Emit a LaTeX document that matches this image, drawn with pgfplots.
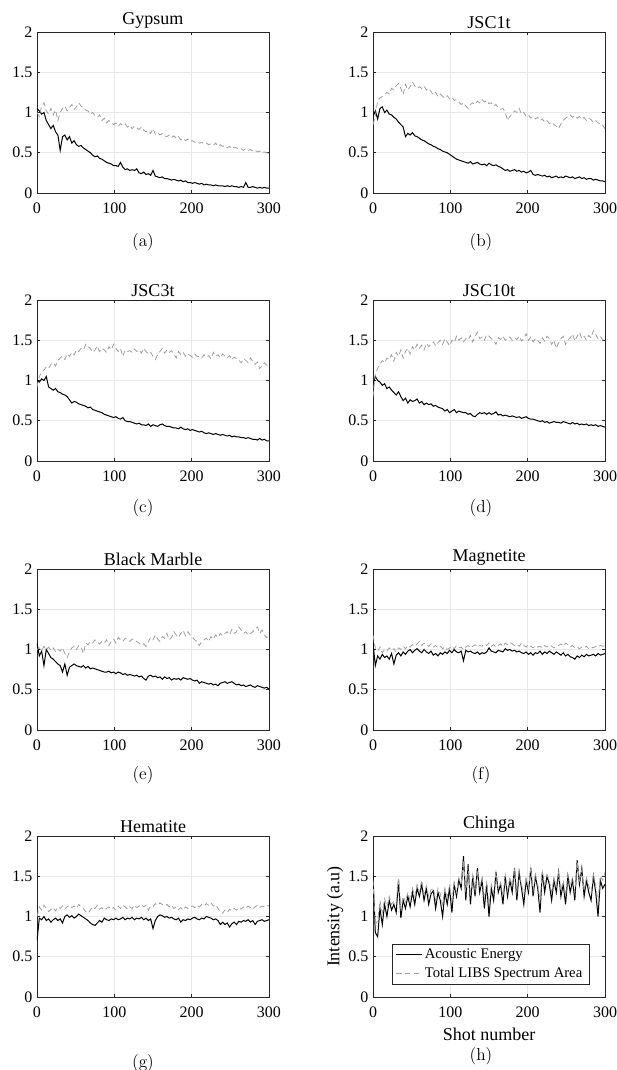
\documentclass[border=0pt]{standalone}
\usepackage{fontspec}
\newfontfamily\tnr{Liberation Serif}
\usepackage{pgfplots}
\pgfplotsset{compat=1.18}
\usepackage{pgfplotstable}
\definecolor{libs}{gray}{0.62}
\definecolor{gridc}{gray}{0.91}
\definecolor{axc}{gray}{0.15}

\pgfplotsset{
 panel/.style={
  scale only axis, width=174pt, height=120.75pt,
  xmin=0,xmax=300,ymin=0,ymax=2,
  xtick={0,100,200,300}, ytick={0,0.5,1,1.5,2},
  grid=major, major grid style={gridc, line width=0.4pt},
  axis line style={axc, line width=0.5pt},
  tick align=inside, major tick length=2.5pt, tick style={axc, line width=0.4pt},
  /pgf/number format/assume math mode=true,
  tick label style={font=\tnr\fontsize{12}{14}\selectfont},
  xticklabel style={yshift=-3.5pt},
  title style={font=\tnr\fontsize{13.5}{15}\selectfont, yshift=-7pt},
  label style={font=\tnr\fontsize{13.5}{15}\selectfont},
  anchor=north west,
 },
 ae/.style={black, line width=0.75pt},
 li/.style={libs, line width=0.6pt, dash pattern=on 4pt off 2.5pt},
}

\pgfplotstableread[row sep=\\]{x a l\\
0 1.05 1.00\\3 1.02 0.95\\6 0.98 1.08\\9 1.00 1.12\\12 0.90 1.02\\15 0.85 0.98\\18 0.80 1.05\\21 0.84 0.97\\24 0.76 1.03\\27 0.72 0.90\\
30 0.53 1.00\\33 0.70 1.05\\36 0.72 1.08\\39 0.66 1.02\\42 0.70 1.06\\45 0.62 1.10\\48 0.65 1.04\\51 0.60 1.07\\54 0.58 1.12\\57 0.59 1.08\\
60 0.56 1.06\\63 0.54 1.03\\66 0.52 1.02\\69 0.50 0.98\\72 0.47 1.00\\75 0.45 0.96\\78 0.46 0.94\\81 0.43 0.97\\84 0.42 0.90\\87 0.40 0.93\\
90 0.38 0.87\\93 0.37 0.90\\96 0.36 0.88\\99 0.34 0.85\\102 0.34 0.87\\105 0.33 0.83\\108 0.38 0.86\\111 0.32 0.84\\114 0.29 0.86\\117 0.30 0.82\\
120 0.28 0.84\\123 0.29 0.80\\126 0.28 0.83\\129 0.30 0.81\\132 0.25 0.79\\135 0.24 0.82\\138 0.26 0.78\\141 0.23 0.76\\144 0.24 0.78\\147 0.22 0.74\\
150 0.28 0.80\\153 0.21 0.73\\156 0.20 0.75\\159 0.19 0.72\\162 0.20 0.74\\165 0.18 0.71\\168 0.18 0.70\\171 0.17 0.72\\174 0.16 0.69\\177 0.17 0.71\\
180 0.16 0.68\\183 0.15 0.70\\186 0.16 0.66\\189 0.14 0.68\\192 0.15 0.65\\195 0.13 0.67\\198 0.13 0.64\\201 0.12 0.65\\204 0.13 0.63\\207 0.12 0.64\\
210 0.11 0.62\\213 0.12 0.63\\216 0.10 0.61\\219 0.11 0.62\\222 0.10 0.60\\225 0.10 0.61\\228 0.09 0.59\\231 0.10 0.62\\234 0.09 0.58\\237 0.09 0.60\\
240 0.09 0.58\\243 0.08 0.59\\246 0.09 0.56\\249 0.08 0.58\\252 0.09 0.55\\255 0.08 0.57\\258 0.08 0.56\\261 0.07 0.54\\264 0.08 0.55\\267 0.07 0.53\\
270 0.13 0.55\\273 0.07 0.53\\276 0.07 0.54\\279 0.08 0.52\\282 0.07 0.53\\285 0.06 0.51\\288 0.07 0.52\\291 0.06 0.50\\294 0.07 0.51\\297 0.06 0.50\\
300 0.06 0.49\\
}\tabA

\pgfplotstableread[row sep=\\]{x a l\\
0 0.95 0.85\\3 1.02 0.95\\6 0.92 1.15\\9 1.05 1.18\\12 1.07 1.20\\15 1.00 1.22\\18 1.03 1.25\\21 0.98 1.23\\24 0.97 1.30\\27 0.94 1.28\\
30 0.92 1.33\\33 0.88 1.36\\36 0.85 1.30\\39 0.82 1.22\\42 0.70 1.35\\45 0.74 1.28\\48 0.72 1.32\\51 0.75 1.38\\54 0.71 1.33\\57 0.70 1.30\\
60 0.68 1.32\\63 0.66 1.30\\66 0.65 1.33\\69 0.63 1.28\\72 0.61 1.30\\75 0.60 1.26\\78 0.58 1.22\\81 0.57 1.25\\84 0.55 1.20\\87 0.54 1.23\\
90 0.52 1.20\\93 0.51 1.18\\96 0.50 1.21\\99 0.48 1.17\\102 0.46 1.19\\105 0.44 1.15\\108 0.42 1.16\\111 0.41 1.13\\114 0.40 1.10\\117 0.39 1.12\\
120 0.38 1.08\\123 0.37 1.05\\126 0.39 1.10\\129 0.36 1.12\\132 0.37 1.10\\135 0.38 1.14\\138 0.36 1.12\\141 0.35 1.16\\144 0.36 1.13\\147 0.34 1.15\\
150 0.37 1.11\\153 0.35 1.12\\156 0.34 1.08\\159 0.35 1.10\\162 0.33 1.06\\165 0.32 1.04\\168 0.30 1.05\\171 0.28 1.00\\174 0.29 0.90\\177 0.27 0.95\\
180 0.28 0.98\\183 0.29 1.02\\186 0.27 1.00\\189 0.28 1.05\\192 0.26 0.98\\195 0.27 1.00\\198 0.25 0.95\\201 0.26 0.97\\204 0.28 0.93\\207 0.23 0.95\\
210 0.22 0.92\\213 0.23 0.94\\216 0.22 0.90\\219 0.21 0.92\\222 0.22 0.88\\225 0.20 0.90\\228 0.21 0.86\\231 0.19 0.88\\234 0.20 0.85\\237 0.21 0.83\\
240 0.19 0.80\\243 0.20 0.86\\246 0.19 0.90\\249 0.21 0.93\\252 0.20 0.95\\255 0.19 0.97\\258 0.20 0.94\\261 0.18 0.96\\264 0.19 0.93\\267 0.20 0.95\\
270 0.18 0.92\\273 0.19 0.94\\276 0.17 0.90\\279 0.18 0.93\\282 0.18 0.91\\285 0.16 0.88\\288 0.17 0.90\\291 0.16 0.87\\294 0.15 0.86\\297 0.15 0.84\\
300 0.14 0.80\\
}\tabB

\pgfplotstableread[row sep=\\]{x a l\\
0 1.00 0.92\\3 0.98 1.05\\6 1.02 1.10\\9 1.00 1.13\\12 1.05 1.17\\15 0.92 1.15\\18 0.90 1.20\\21 0.88 1.22\\24 0.90 1.18\\27 0.86 1.25\\
30 0.85 1.28\\33 0.83 1.30\\36 0.82 1.26\\39 0.80 1.33\\42 0.76 1.30\\45 0.72 1.35\\48 0.74 1.32\\51 0.73 1.38\\54 0.71 1.36\\57 0.70 1.40\\
60 0.69 1.38\\63 0.68 1.45\\66 0.66 1.42\\69 0.67 1.40\\72 0.64 1.35\\75 0.63 1.38\\78 0.62 1.43\\81 0.61 1.36\\84 0.60 1.40\\87 0.58 1.38\\
90 0.57 1.35\\93 0.56 1.42\\96 0.55 1.38\\99 0.54 1.45\\102 0.55 1.40\\105 0.53 1.36\\108 0.52 1.40\\111 0.54 1.30\\114 0.50 1.38\\117 0.49 1.36\\
120 0.49 1.37\\123 0.48 1.35\\126 0.47 1.39\\129 0.46 1.36\\132 0.47 1.38\\135 0.45 1.34\\138 0.45 1.40\\141 0.44 1.36\\144 0.46 1.33\\147 0.43 1.35\\
150 0.45 1.30\\153 0.44 1.26\\156 0.43 1.32\\159 0.45 1.36\\162 0.46 1.40\\165 0.44 1.34\\168 0.43 1.38\\171 0.43 1.35\\174 0.42 1.37\\177 0.41 1.33\\
180 0.41 1.28\\183 0.40 1.36\\186 0.42 1.32\\189 0.40 1.35\\192 0.39 1.30\\195 0.40 1.33\\198 0.38 1.31\\201 0.39 1.29\\204 0.38 1.33\\207 0.37 1.30\\
210 0.36 1.30\\213 0.37 1.28\\216 0.35 1.32\\219 0.34 1.29\\222 0.35 1.31\\225 0.34 1.27\\228 0.33 1.35\\231 0.34 1.30\\234 0.33 1.32\\237 0.32 1.28\\
240 0.33 1.33\\243 0.32 1.30\\246 0.31 1.28\\249 0.32 1.31\\252 0.30 1.26\\255 0.31 1.29\\258 0.30 1.27\\261 0.30 1.25\\264 0.29 1.22\\267 0.29 1.27\\
270 0.28 1.25\\273 0.29 1.22\\276 0.28 1.28\\279 0.27 1.24\\282 0.27 1.20\\285 0.26 1.23\\288 0.28 1.15\\291 0.26 1.18\\294 0.27 1.22\\297 0.25 1.19\\
300 0.25 1.20\\
}\tabC

\pgfplotstableread[row sep=\\]{x a l\\
0 0.95 0.80\\3 1.05 1.08\\6 1.00 1.15\\9 0.98 1.20\\12 0.94 1.25\\15 0.96 1.22\\18 0.90 1.28\\21 0.92 1.26\\24 0.88 1.32\\27 0.85 1.24\\
30 0.82 1.35\\33 0.86 1.30\\36 0.80 1.38\\39 0.75 1.28\\42 0.78 1.36\\45 0.72 1.40\\48 0.76 1.33\\51 0.74 1.42\\54 0.75 1.38\\57 0.77 1.45\\
60 0.72 1.40\\63 0.74 1.44\\66 0.70 1.38\\69 0.72 1.46\\72 0.70 1.42\\75 0.71 1.45\\78 0.68 1.48\\81 0.69 1.43\\84 0.67 1.47\\87 0.66 1.50\\
90 0.65 1.45\\93 0.62 1.52\\96 0.64 1.48\\99 0.60 1.43\\102 0.62 1.50\\105 0.64 1.47\\108 0.60 1.55\\111 0.62 1.50\\114 0.61 1.53\\117 0.60 1.48\\
120 0.60 1.52\\123 0.58 1.50\\126 0.59 1.56\\129 0.56 1.48\\132 0.55 1.55\\135 0.58 1.60\\138 0.60 1.52\\141 0.59 1.54\\144 0.60 1.50\\147 0.58 1.57\\
150 0.60 1.55\\153 0.58 1.52\\156 0.59 1.50\\159 0.61 1.45\\162 0.57 1.53\\165 0.58 1.51\\168 0.56 1.55\\171 0.57 1.50\\174 0.56 1.52\\177 0.55 1.54\\
180 0.56 1.50\\183 0.55 1.53\\186 0.54 1.51\\189 0.55 1.55\\192 0.53 1.49\\195 0.54 1.52\\198 0.55 1.58\\201 0.53 1.50\\204 0.52 1.54\\207 0.52 1.48\\
210 0.51 1.52\\213 0.50 1.50\\216 0.49 1.46\\219 0.50 1.53\\222 0.48 1.49\\225 0.49 1.55\\228 0.47 1.52\\231 0.48 1.45\\234 0.49 1.50\\237 0.48 1.40\\
240 0.48 1.47\\243 0.47 1.52\\246 0.49 1.55\\249 0.48 1.45\\252 0.47 1.50\\255 0.46 1.53\\258 0.48 1.58\\261 0.46 1.49\\264 0.47 1.55\\267 0.45 1.60\\
270 0.46 1.52\\273 0.45 1.55\\276 0.46 1.50\\279 0.44 1.56\\282 0.45 1.53\\285 0.44 1.62\\288 0.45 1.57\\291 0.43 1.52\\294 0.44 1.55\\297 0.43 1.50\\
300 0.42 1.52\\
}\tabD

\pgfplotstableread[row sep=\\]{x a l\\
0 1.08 1.00\\3 0.92 1.02\\6 0.98 0.98\\9 0.80 1.04\\12 1.00 1.00\\15 0.95 1.03\\18 0.90 0.99\\21 0.88 1.02\\24 0.85 0.97\\27 0.82 1.00\\
30 0.80 0.98\\33 0.72 1.02\\36 0.82 0.95\\39 0.68 0.90\\42 0.78 0.97\\45 0.80 1.02\\48 0.82 1.04\\51 0.80 1.00\\54 0.79 1.05\\57 0.78 1.03\\
60 0.80 0.95\\63 0.77 1.08\\66 0.79 1.06\\69 0.76 1.10\\72 0.77 1.08\\75 0.76 1.12\\78 0.75 1.09\\81 0.74 1.07\\84 0.73 1.10\\87 0.72 1.08\\
90 0.72 1.12\\93 0.73 1.05\\96 0.71 1.10\\99 0.72 1.13\\102 0.70 1.08\\105 0.72 1.15\\108 0.71 1.12\\111 0.69 1.10\\114 0.70 1.14\\117 0.68 1.12\\
120 0.69 1.10\\123 0.68 1.13\\126 0.67 1.12\\129 0.68 1.10\\132 0.66 1.08\\135 0.67 1.05\\138 0.64 1.07\\141 0.62 1.04\\144 0.67 1.10\\147 0.68 1.15\\
150 0.66 1.12\\153 0.67 1.18\\156 0.65 1.13\\159 0.66 1.10\\162 0.63 1.16\\165 0.66 1.14\\168 0.64 1.20\\171 0.65 1.12\\174 0.62 1.15\\177 0.64 1.22\\
180 0.63 1.18\\183 0.64 1.15\\186 0.62 1.20\\189 0.65 1.24\\192 0.64 1.17\\195 0.63 1.22\\198 0.64 1.18\\201 0.62 1.15\\204 0.61 1.12\\207 0.62 1.10\\
210 0.58 1.05\\213 0.60 1.10\\216 0.59 1.12\\219 0.58 1.14\\222 0.57 1.10\\225 0.58 1.16\\228 0.56 1.13\\231 0.57 1.18\\234 0.55 1.15\\237 0.58 1.20\\
240 0.59 1.17\\243 0.60 1.20\\246 0.58 1.22\\249 0.59 1.18\\252 0.60 1.25\\255 0.58 1.20\\258 0.56 1.22\\261 0.57 1.28\\264 0.55 1.24\\267 0.56 1.20\\
270 0.54 1.22\\273 0.55 1.18\\276 0.56 1.20\\279 0.54 1.22\\282 0.53 1.25\\285 0.55 1.28\\288 0.54 1.20\\291 0.53 1.24\\294 0.52 1.18\\297 0.53 1.15\\
300 0.51 1.16\\
}\tabE

\pgfplotstableread[row sep=\\]{x a l\\
0 1.08 1.18\\3 0.80 1.02\\6 0.92 0.98\\9 0.88 1.03\\12 0.94 0.96\\15 0.90 1.00\\18 0.92 0.98\\21 0.88 1.02\\24 0.95 0.99\\27 0.82 1.01\\
30 0.93 0.97\\33 0.96 1.02\\36 0.92 1.00\\39 0.97 1.04\\42 0.94 1.01\\45 0.98 1.05\\48 1.00 1.03\\51 0.96 1.06\\54 0.99 1.04\\57 1.01 1.07\\
60 0.98 1.10\\63 0.96 1.05\\66 1.00 1.08\\69 0.97 1.06\\72 0.95 1.04\\75 0.98 1.07\\78 0.93 1.03\\81 0.95 1.05\\84 0.92 1.02\\87 0.96 1.04\\
90 0.94 1.01\\93 0.97 1.03\\96 0.95 1.00\\99 0.99 1.02\\102 0.96 1.04\\105 1.00 1.01\\108 0.97 1.05\\111 0.96 1.02\\114 0.98 1.03\\117 0.86 1.00\\
120 0.99 1.03\\123 0.97 1.05\\126 0.98 1.02\\129 0.96 1.04\\132 0.95 1.06\\135 0.97 1.03\\138 0.94 1.05\\141 0.96 1.04\\144 0.95 1.07\\147 0.97 1.05\\
150 1.02 1.08\\153 0.98 1.04\\156 0.97 1.06\\159 0.96 1.03\\162 0.99 1.05\\165 0.98 1.07\\168 0.97 1.04\\171 1.01 1.08\\174 0.99 1.06\\177 1.00 1.09\\
180 0.98 1.07\\183 0.99 1.05\\186 0.97 1.06\\189 0.98 1.04\\192 0.96 1.08\\195 0.95 1.05\\198 0.97 1.03\\201 0.94 1.06\\204 0.96 1.04\\207 0.93 1.02\\
210 0.96 1.05\\213 0.95 1.03\\216 0.98 1.04\\219 0.94 1.02\\222 0.97 1.05\\225 0.95 1.03\\228 0.98 1.06\\231 0.96 1.04\\234 0.94 1.02\\237 0.97 1.04\\
240 0.95 1.05\\243 0.93 1.07\\246 0.96 1.04\\249 0.92 1.08\\252 0.94 1.06\\255 0.91 1.03\\258 0.90 1.05\\261 0.88 1.02\\264 0.92 1.03\\267 0.90 1.01\\
270 0.93 1.03\\273 0.91 1.02\\276 0.94 1.04\\279 0.92 1.01\\282 0.93 1.03\\285 0.94 1.02\\288 0.92 1.04\\291 0.95 1.03\\294 0.93 1.05\\297 0.94 1.04\\
300 0.95 1.05\\
}\tabF

\pgfplotstableread[row sep=\\]{x a l\\
0 0.70 1.00\\3 0.98 1.12\\6 0.96 1.08\\9 1.00 1.14\\12 0.95 1.10\\15 0.97 1.06\\18 0.93 1.09\\21 0.96 1.11\\24 0.98 1.07\\27 0.95 1.12\\
30 0.97 1.10\\33 0.92 1.13\\36 1.00 1.09\\39 1.02 1.12\\42 0.99 1.14\\45 1.01 1.11\\48 0.98 1.13\\51 1.00 1.10\\54 1.03 1.15\\57 1.01 1.12\\
60 0.99 1.10\\63 0.97 1.06\\66 0.95 1.04\\69 0.92 1.08\\72 0.90 1.12\\75 0.89 1.10\\78 0.92 1.14\\81 0.95 1.09\\84 0.93 1.11\\87 0.98 1.08\\
90 0.96 1.10\\93 0.95 1.12\\96 0.97 1.09\\99 0.96 1.11\\102 0.98 1.08\\105 0.96 1.13\\108 0.97 1.10\\111 0.99 1.14\\114 0.96 1.12\\117 0.98 1.09\\
120 0.97 1.12\\123 0.99 1.10\\126 0.96 1.14\\129 0.98 1.11\\132 0.97 1.13\\135 0.99 1.15\\138 0.96 1.12\\141 0.98 1.14\\144 0.95 1.08\\147 0.97 1.13\\
150 0.85 1.12\\153 0.95 1.16\\156 1.00 1.14\\159 1.02 1.17\\162 1.01 1.15\\165 0.99 1.13\\168 1.00 1.15\\171 0.98 1.12\\174 0.99 1.14\\177 0.97 1.10\\
180 0.96 1.12\\183 0.98 1.09\\186 0.93 1.11\\189 0.96 1.08\\192 0.95 1.12\\195 0.97 1.10\\198 0.96 1.12\\201 0.98 1.13\\204 0.99 1.11\\207 0.97 1.14\\
210 0.96 1.12\\213 0.98 1.15\\216 0.97 1.13\\219 1.00 1.16\\222 0.99 1.14\\225 0.98 1.17\\228 0.96 1.13\\231 0.97 1.15\\234 0.95 1.10\\237 0.90 1.06\\
240 0.93 1.04\\243 0.90 1.08\\246 0.92 1.05\\249 0.87 1.09\\252 0.91 1.07\\255 0.93 1.10\\258 0.90 1.08\\261 0.94 1.11\\264 0.93 1.09\\267 0.95 1.12\\
270 0.94 1.10\\273 0.96 1.13\\276 0.93 1.11\\279 0.95 1.09\\282 0.90 1.12\\285 0.94 1.14\\288 0.95 1.11\\291 0.96 1.13\\294 0.94 1.12\\297 0.95 1.14\\
300 0.96 1.13\\
}\tabG

\pgfplotstableread[row sep=\\]{x a l\\
0 1.50 1.45\\3 0.80 0.90\\6 0.75 0.95\\9 1.10 1.20\\12 0.90 1.05\\15 1.15 1.22\\18 1.00 1.12\\21 1.20 1.25\\24 1.08 1.15\\27 1.15 1.20\\
30 1.05 1.18\\33 1.45 1.48\\36 0.98 1.10\\39 1.20 1.25\\42 1.10 1.18\\45 1.25 1.30\\48 1.12 1.20\\51 1.30 1.35\\54 1.15 1.25\\57 1.35 1.40\\
60 1.25 1.30\\63 1.40 1.45\\66 1.20 1.28\\69 1.35 1.38\\72 1.15 1.25\\75 1.28 1.33\\78 1.32 1.35\\81 1.10 1.20\\84 1.30 1.35\\87 1.20 1.28\\
90 1.00 1.15\\93 1.30 1.35\\96 1.15 1.25\\99 1.35 1.38\\102 1.05 1.20\\105 1.40 1.42\\108 1.25 1.30\\111 1.45 1.48\\114 1.35 1.40\\117 1.75 1.70\\
120 1.20 1.30\\123 1.65 1.62\\126 1.15 1.25\\129 1.50 1.52\\132 1.25 1.32\\135 1.60 1.58\\138 1.30 1.35\\141 1.45 1.48\\144 1.10 1.22\\147 1.40 1.42\\
150 1.00 1.15\\153 1.35 1.40\\156 1.20 1.30\\159 1.55 1.55\\162 1.30 1.35\\165 1.40 1.42\\168 1.15 1.25\\171 1.50 1.52\\174 1.25 1.32\\177 1.45 1.48\\
180 1.30 1.38\\183 1.60 1.58\\186 1.20 1.30\\189 1.55 1.55\\192 1.35 1.40\\195 1.15 1.28\\198 1.45 1.48\\201 1.30 1.35\\204 1.60 1.60\\207 1.25 1.32\\
210 1.50 1.52\\213 1.35 1.40\\216 1.05 1.20\\219 1.55 1.55\\222 1.30 1.38\\225 1.50 1.52\\228 1.40 1.45\\231 1.20 1.30\\234 1.45 1.48\\237 1.30 1.38\\
240 1.55 1.55\\243 1.25 1.32\\246 1.40 1.45\\249 1.15 1.25\\252 1.50 1.52\\255 1.30 1.38\\258 1.45 1.48\\261 1.20 1.30\\264 1.70 1.68\\267 1.40 1.45\\
270 1.60 1.58\\273 1.25 1.32\\276 1.45 1.48\\279 1.30 1.38\\282 1.20 1.30\\285 1.50 1.52\\288 1.30 1.38\\291 1.00 1.20\\294 1.45 1.50\\297 1.35 1.45\\
300 1.40 1.55\\
}\tabH

\begin{document}
\begin{tikzpicture}[x=1pt,y=1pt]
\path[use as bounding box] (0,0) rectangle (462.75,-802.5);

\begin{axis}[panel, at={(27.75pt,-24pt)}, title={Gypsum}]
\addplot[ae] table[x=x,y=a]{\tabA};
\addplot[li] table[x=x,y=l]{\tabA};
\end{axis}
\begin{axis}[panel, at={(279.75pt,-24pt)}, title={JSC1t}]
\addplot[ae] table[x=x,y=a]{\tabB};
\addplot[li] table[x=x,y=l]{\tabB};
\end{axis}
\begin{axis}[panel, at={(27.75pt,-225pt)}, title={JSC3t}]
\addplot[ae] table[x=x,y=a]{\tabC};
\addplot[li] table[x=x,y=l]{\tabC};
\end{axis}
\begin{axis}[panel, at={(279.75pt,-225pt)}, title={JSC10t}]
\addplot[ae] table[x=x,y=a]{\tabD};
\addplot[li] table[x=x,y=l]{\tabD};
\end{axis}
\begin{axis}[panel, at={(27.75pt,-426.75pt)}, title={Black Marble}]
\addplot[ae] table[x=x,y=a]{\tabE};
\addplot[li] table[x=x,y=l]{\tabE};
\end{axis}
\begin{axis}[panel, at={(279.75pt,-426.75pt)}, title={Magnetite}]
\addplot[ae] table[x=x,y=a]{\tabF};
\addplot[li] table[x=x,y=l]{\tabF};
\end{axis}
\begin{axis}[panel, at={(27.75pt,-627pt)}, title={Hematite}]
\addplot[ae] table[x=x,y=a]{\tabG};
\addplot[li] table[x=x,y=l]{\tabG};
\end{axis}
\begin{axis}[panel, at={(279.75pt,-627pt)}, title={Chinga},
  xlabel={Shot number}, ylabel={Intensity (a.u)},
  xlabel style={yshift=-1pt}, ylabel style={yshift=-3pt},
  legend style={at={(0.08,0.08)}, anchor=south west, draw=axc, fill=white,
    font=\tnr\fontsize{11}{12}\selectfont, inner xsep=3pt, inner ysep=1.5pt, row sep=1pt,
    nodes={inner xsep=2pt}},
  legend cell align=left,
  legend image code/.code={\draw[#1] (0pt,0pt) -- (19pt,0pt);}]
\addplot[ae] table[x=x,y=a]{\tabH};
\addlegendentry{Acoustic Energy}
\addplot[li] table[x=x,y=l]{\tabH};
\addlegendentry{Total LIBS Spectrum Area}
\end{axis}

\begin{scope}[font=\fontsize{13}{15}\selectfont]
\node at (107.25,-181.5) {(a)};
\node at (360.75,-181.5) {(b)};
\node at (107.25,-381) {(c)};
\node at (360.75,-381) {(d)};
\node at (107.25,-581.25) {(e)};
\node at (360.75,-581.25) {(f)};
\node at (107.25,-797.25) {(g)};
\node at (360.75,-792) {(h)};
\end{scope}
\end{tikzpicture}
\end{document}
